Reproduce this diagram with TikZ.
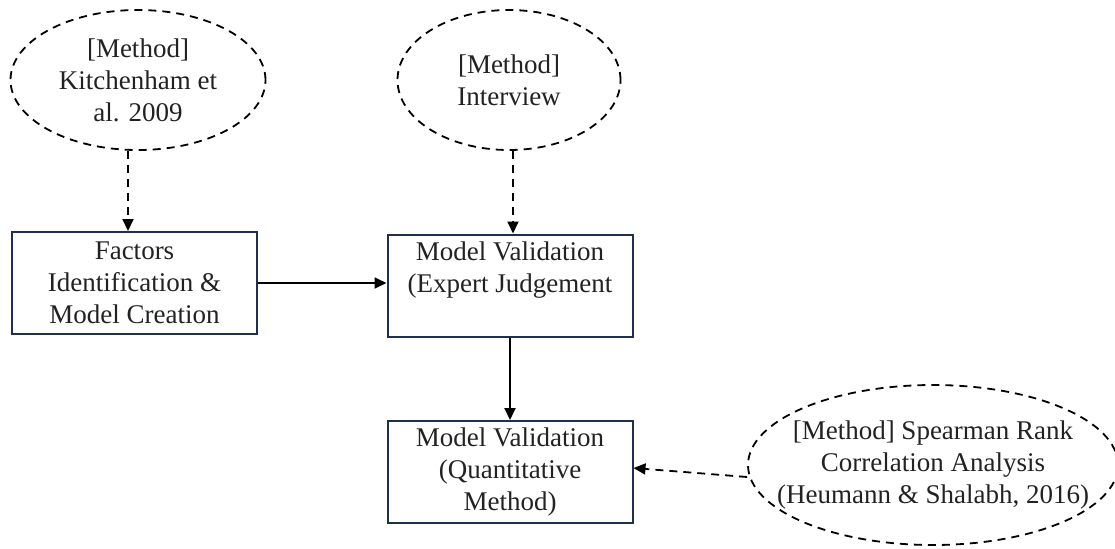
\documentclass[tikz,border=0pt]{standalone}
\usepackage{fontspec}
\setmainfont{Liberation Serif}
\usepackage{xcolor}
\usepackage{tikz}
\usetikzlibrary{arrows.meta, positioning, shapes.geometric}

\definecolor{boxline}{HTML}{1F2F4F}
\definecolor{inktext}{HTML}{222222}

\tikzset{
	labeltext/.style={align=center, text=inktext, inner sep=0pt, font=\fontsize{13.5}{16}\selectfont},
	stagebox/.style={draw=boxline, line width=1pt, minimum width=122.5pt, minimum height=51pt, inner sep=2pt, labeltext},
	methodbubble/.style={ellipse, draw, dash pattern=on 4pt off 3pt, line width=0.9pt, inner sep=0pt},
	solidarrow/.style={line width=0.9pt, -{Triangle[length=6pt, width=5.5pt]}},
	dasharrow/.style={line width=0.9pt, dash pattern=on 4pt off 3pt, -{Triangle[length=6pt, width=5.5pt]}}
}

\begin{document}
\begin{tikzpicture}[x=0.5pt, y=-0.5pt]
			\useasboundingbox (0, 0) rectangle (1115, 548);
			% Method bubbles, fixed size, text set on top:
			\node[methodbubble, minimum width=127.5pt, minimum height=70pt](E1) at (138, 80){};
			\node[labeltext](E1T) at (E1){[Method]\\Kitchenham et\\al. 2009};
			\node[methodbubble, minimum width=111.5pt, minimum height=70pt](E2) at (509, 80){};
			\node[labeltext](E2T) at (E2){[Method]\\Interview};
			\node[methodbubble, minimum width=185pt, minimum height=80pt](E3) at (933, 465){};
			\node[labeltext](E3T) at (E3){[Method] Spearman Rank\\Correlation Analysis\\(Heumann \& Shalabh, 2016)};
			% Stages:
			\node[stagebox](B1) at (134.5, 283){Factors\\Identification \&\\Model Creation};
			\node[stagebox](B2) at (510, 285.5){};
			\node[labeltext, anchor=north](B2T) at (510, 241){Model Validation\\(Expert Judgement};
			\node[stagebox](B3) at (510, 472){Model Validation\\(Quantitative\\Method)};
			% Connectors:
			\draw[dasharrow] ([xshift=-5pt]E1.south) -- ([xshift=-5pt]E1.south |- B1.north);
			\draw[dasharrow] ([xshift=2pt]E2.south) -- ([xshift=2pt]E2.south |- B2.north);
			\draw[solidarrow] (B1.east) -- (B1.east -| B2.west);
			\draw[solidarrow] (B2.south) -- (B3.north);
			\draw[dasharrow] ([yshift=-6pt]E3.west) -- ([yshift=2pt]B3.east);
		\end{tikzpicture}
\end{document}
